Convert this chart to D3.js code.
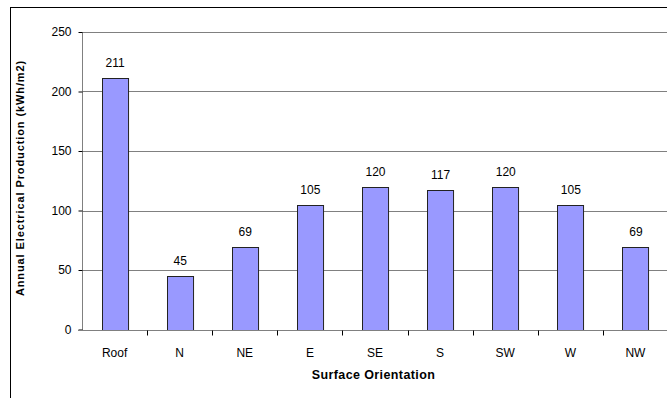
<!DOCTYPE html>
<html>
<head>
<meta charset="utf-8">
<script src="https://cdn.jsdelivr.net/npm/d3@7"></script>
<style>
  html, body { margin: 0; padding: 0; background: #fff; }
  svg { display: block; font-family: Arial, "Liberation Sans", sans-serif; }
</style>
</head>
<body>
<svg id="chart" width="667" height="398"></svg>
<script>
// Annual electrical production per surface orientation
const categories = ["Roof", "N", "NE", "E", "SE", "S", "SW", "W", "NW"];
const production = [211, 45, 69, 105, 120, 117, 120, 105, 69];
const yTicks = [0, 50, 100, 150, 200, 250];

const svg = d3.select("#chart");
const W = 667, H = 398;
const margin = { left: 82, top: 32, right: 0, bottom: 68.5 };
const plotW = W - margin.left - margin.right + 1;
const plotH = H - margin.top - margin.bottom;

// outer chart frame (extends past the visible area on right and bottom)
svg.append("rect")
  .attr("x", 10.5).attr("y", 7.5)
  .attr("width", 700).attr("height", 420)
  .attr("fill", "none").attr("stroke", "#000").attr("stroke-width", 1);

const x = d3.scaleBand().domain(categories).range([0, plotW]).paddingInner(0.6).paddingOuter(0.3);
const xBand = d3.scaleBand().domain(categories).range([0, plotW]);
const y = d3.scaleLinear().domain([0, 250]).range([plotH, 0]);

const g = svg.append("g").attr("transform", `translate(${margin.left},${margin.top})`);

// horizontal gridlines
g.append("g").selectAll("line").data(yTicks.filter(d => d > 0)).join("line")
  .attr("x1", 0).attr("x2", plotW)
  .attr("y1", d => Math.round(y(d)) + 0.5).attr("y2", d => Math.round(y(d)) + 0.5)
  .attr("stroke", "#808080").attr("stroke-width", 1);

// bars
g.append("g").selectAll("rect").data(production).join("rect")
  .attr("x", (d, i) => Math.round(x(categories[i])) + 0.5)
  .attr("y", d => Math.round(y(d)) + 0.5)
  .attr("width", x.bandwidth())
  .attr("height", d => Math.round(y(0)) - Math.round(y(d)))
  .attr("fill", "#9999FF").attr("stroke", "#222").attr("stroke-width", 1);

// value labels
g.append("g").selectAll("text").data(production).join("text")
  .attr("x", (d, i) => x(categories[i]) + x.bandwidth() / 2 + 0.5)
  .attr("y", d => y(d) - 11)
  .attr("text-anchor", "middle")
  .attr("font-size", 12).attr("fill", "#000")
  .text(d => d);

// y axis
const yAxis = g.append("g")
  .attr("transform", "translate(0.5,0)")
  .call(d3.axisLeft(y).tickValues(yTicks).tickSize(4).tickPadding(7).tickFormat(d3.format("d")));
yAxis.select(".domain").attr("stroke", "#808080").attr("d", `M0,${Math.round(y(250))}V${Math.round(y(0))+0.5}`);
yAxis.selectAll(".tick line").attr("stroke", "#000");
yAxis.selectAll(".tick text").attr("font-size", 12).attr("font-family", "Arial, 'Liberation Sans', sans-serif").attr("fill", "#000");

// x axis
const xAxis = g.append("g").attr("transform", `translate(0,${Math.round(y(0)) + 0.5})`);
xAxis.append("line").attr("x1", -4).attr("x2", plotW).attr("stroke", "#808080");
xAxis.selectAll("line.tick").data(categories.slice(1)).join("line")
  .attr("class", "tick")
  .attr("x1", d => Math.round(xBand(d)) + 0.5).attr("x2", d => Math.round(xBand(d)) + 0.5)
  .attr("y1", 0).attr("y2", 5).attr("stroke", "#000");
xAxis.selectAll("text").data(categories).join("text")
  .attr("x", d => xBand(d) + xBand.bandwidth() / 2)
  .attr("y", 26)
  .attr("text-anchor", "middle").attr("font-size", 12).attr("fill", "#000")
  .text(d => d);

// axis titles
svg.append("text")
  .attr("x", 373.5).attr("y", 379)
  .attr("text-anchor", "middle").attr("font-size", 12.5).attr("font-weight", "bold")
  .attr("letter-spacing", 0.4)
  .text("Surface Orientation");
svg.append("text")
  .attr("transform", `translate(24,178) rotate(-90)`)
  .attr("text-anchor", "middle").attr("font-size", 11).attr("font-weight", "bold")
  .attr("letter-spacing", 0.9)
  .text("Annual Electrical Production (kWh/m2)");
</script>
</body>
</html>
